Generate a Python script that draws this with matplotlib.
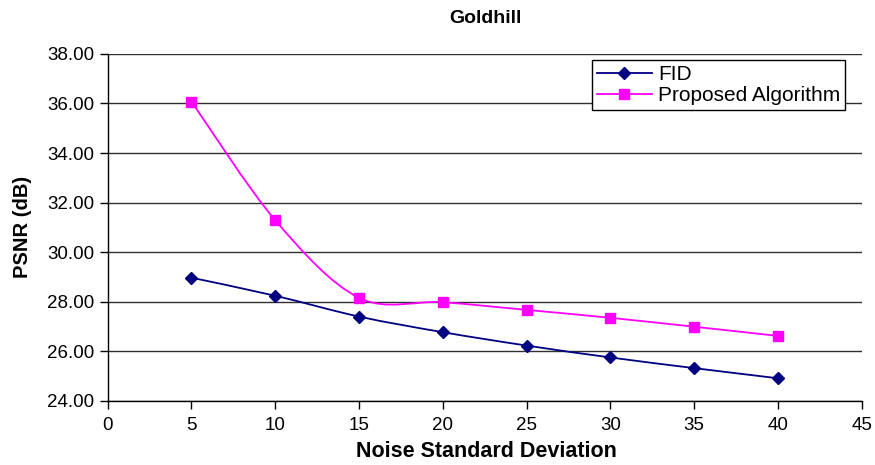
import numpy as np
import matplotlib
matplotlib.use("Agg")
import matplotlib.pyplot as plt
from matplotlib.path import Path
from matplotlib.patches import PathPatch

plt.rcParams['font.family'] = ['Liberation Sans', 'DejaVu Sans']

noise = [5, 10, 15, 20, 25, 30, 35, 40]
fid = [28.97, 28.24, 27.40, 26.77, 26.23, 25.75, 25.32, 24.91]
proposed = [36.08, 31.29, 28.16, 27.98, 27.67, 27.35, 26.99, 26.62]


def smooth_path(x, y):
    # Excel-style smoothed line: cubic Bezier segments, Catmull-Rom tangents
    pts = np.column_stack([np.asarray(x, float), np.asarray(y, float)])
    verts = [pts[0]]
    codes = [Path.MOVETO]
    n = len(pts)
    for i in range(n - 1):
        p0 = pts[i - 1] if i > 0 else pts[i]
        p1 = pts[i]
        p2 = pts[i + 1]
        p3 = pts[i + 2] if i + 2 < n else pts[i + 1]
        verts += [p1 + (p2 - p0) / 6.0, p2 - (p3 - p1) / 6.0, p2]
        codes += [Path.CURVE4] * 3
    return Path(verts, codes)


fig = plt.figure(figsize=(8.75, 4.65), dpi=100)
ax = fig.add_axes([0.123, 0.138, 0.862, 0.746])

for xs, ys, col, mk, ms, lab in [(noise, fid, '#000080', 'D', 6, 'FID'),
                                  (noise, proposed, '#FF00FF', 's', 7, 'Proposed Algorithm')]:
    ax.add_patch(PathPatch(smooth_path(xs, ys), facecolor='none', edgecolor=col, lw=1.3, zorder=3))
    ax.plot(xs, ys, linestyle='none', marker=mk, color=col, markersize=ms, zorder=4)
    ax.plot([], [], color=col, marker=mk, markersize=ms, lw=1.3, label=lab)

ax.set_xlim(0, 45)
ax.set_ylim(24, 38)
ax.set_xticks(np.arange(0, 46, 5))
ax.set_yticks(np.arange(24, 38.1, 2))
ax.set_yticklabels(['%.2f' % v for v in np.arange(24, 38.1, 2)])
ax.tick_params(labelsize=13.5, direction='out', length=6, width=1, colors='black')
ax.tick_params(axis='x', pad=6)
ax.yaxis.grid(True, color='#303030', lw=1)
ax.set_axisbelow(True)
for s in ['top', 'right']:
    ax.spines[s].set_visible(False)
for s in ['left', 'bottom']:
    ax.spines[s].set_color('black')
    ax.spines[s].set_linewidth(1)

fig.text(0.555, 0.961, 'Goldhill', fontsize=14, fontweight='bold', ha='center', va='center')
fig.text(0.556, 0.028, 'Noise Standard Deviation', fontsize=15.5, fontweight='bold',
         ha='center', va='center')
fig.text(0.026, 0.512, 'PSNR (dB)', fontsize=14.5, fontweight='bold', rotation=90,
         ha='center', va='center')

leg = ax.legend(loc='upper right', bbox_to_anchor=(0.966, 0.871),
                bbox_transform=fig.transFigure, fontsize=15,
                frameon=True, fancybox=False, framealpha=1, edgecolor='black',
                handlelength=2.6, borderpad=0.25, labelspacing=0.1, handletextpad=0.3,
                borderaxespad=0)
leg.get_frame().set_linewidth(1)

fig.savefig('out.png', dpi=100)
